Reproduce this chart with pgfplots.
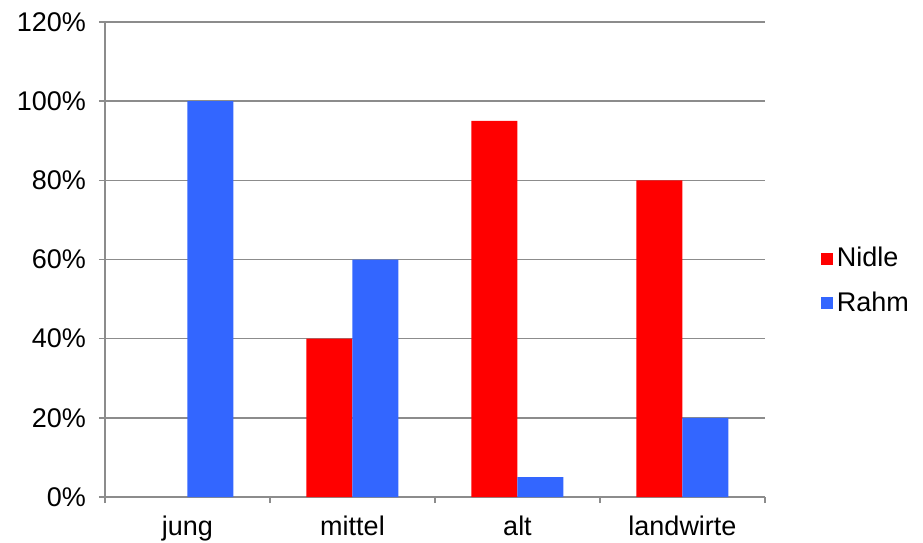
\documentclass[border=0pt]{standalone}
\usepackage{fontspec}
\setmainfont{Liberation Sans}
\usepackage{pgfplots}
\pgfplotsset{compat=1.18}
\definecolor{nred}{HTML}{FF0000}
\definecolor{rblue}{HTML}{3366FF}
\definecolor{axgray}{HTML}{8C8C8C}
\begin{document}
\begin{tikzpicture}[x=0.5pt,y=0.5pt]
\path[use as bounding box] (-105,-45) rectangle (818,497);
\begin{axis}[
  at={(0pt,0pt)}, anchor=south west,
  scale only axis,
  width=330pt, height=237.5pt,
  ybar=0pt, bar width=23pt,
  xmin=-0.5, xmax=3.5,
  ymin=0, ymax=120,
  ytick={0,20,...,120},
  yticklabel={\pgfmathprintnumber{\tick}\%},
  /pgf/number format/assume math mode=true,
  xtick={0,1,2,3},
  xticklabels={jung,mittel,alt,landwirte},
  minor xtick={-0.5,0.5,1.5,2.5,3.5},
  major x tick style={draw=none},
  tick align=outside,
  major tick length=3pt,
  minor tick length=3pt,
  tick style={axgray, line width=0.8pt},
  axis x line*=bottom, axis y line*=left,
  axis line style={axgray, line width=0.8pt, -},
  ymajorgrids, grid style={axgray, line width=0.8pt},
  ticklabel style={font=\fontsize{13.5}{15}\selectfont},
  xticklabel style={yshift=-3pt},
  yticklabel style={xshift=-3pt},
  legend style={at={(1.075,0.455)}, anchor=west, draw=none, fill=none,
    font=\fontsize{13.5}{15}\selectfont, row sep=7pt},
  legend cell align=left,
  legend image code/.code={\fill[#1] (0pt,-3pt) rectangle (6pt,3pt);},
]
\addplot[fill=nred, draw=none] coordinates {(1,40) (2,95) (3,80)};
\addplot[fill=rblue, draw=none] coordinates {(0,100) (1,60) (2,5) (3,20)};
\legend{Nidle,Rahm}
\end{axis}
\end{tikzpicture}
\end{document}
